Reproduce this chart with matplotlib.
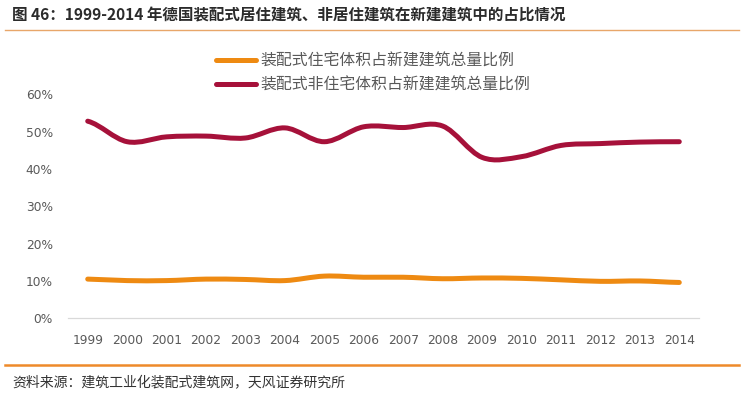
import matplotlib
matplotlib.use('Agg')
import matplotlib.pyplot as plt
from matplotlib.path import Path
from matplotlib.patches import PathPatch
from matplotlib.lines import Line2D

plt.rcParams['font.family'] = ['Noto Sans CJK SC', 'DejaVu Sans']

years = ['1999', '2000', '2001', '2002', '2003', '2004', '2005', '2006',
         '2007', '2008', '2009', '2010', '2011', '2012', '2013', '2014']
# 装配式住宅体积占新建建筑总量比例 (%)
resid = [10.5, 10.1, 10.1, 10.5, 10.4, 10.1, 11.3, 11.0,
         11.0, 10.6, 10.8, 10.7, 10.3, 9.9, 10.0, 9.6]
# 装配式非住宅体积占新建建筑总量比例 (%)
nonresid = [52.8, 47.3, 48.6, 48.8, 48.3, 51.0, 47.3, 51.3,
            51.1, 51.5, 43.1, 43.3, 46.3, 46.8, 47.2, 47.3]

labels = ['装配式住宅体积占新建建筑总量比例', '装配式非住宅体积占新建建筑总量比例']
colors = ['#EE8A12', '#A6113A']


def smooth_path(ys):
    # Excel 风格的平滑线：Catmull-Rom 转三次贝塞尔
    ys = [v / 100 for v in ys]
    n = len(ys)
    m = []
    for i in range(n):
        a = ys[max(i - 1, 0)]
        b = ys[min(i + 1, n - 1)]
        m.append((b - a) / 2)
    verts = [(0, ys[0])]
    codes = [Path.MOVETO]
    for i in range(n - 1):
        verts += [(i + 1 / 3, ys[i] + m[i] / 3),
                  (i + 1 - 1 / 3, ys[i + 1] - m[i + 1] / 3),
                  (i + 1, ys[i + 1])]
        codes += [Path.CURVE4] * 3
    return Path(verts, codes)


fig = plt.figure(figsize=(7.43, 3.96), dpi=100)
ax = fig.add_axes([68 / 743, 1 - 318.3 / 396, 631 / 743, (318.3 - 94.3) / 396])

for data, c in zip([resid, nonresid], colors):
    ax.add_patch(PathPatch(smooth_path(data), fill=False, edgecolor=c,
                           lw=3.6, capstyle='round', joinstyle='round'))

ax.set_xlim(-0.5, len(years) - 0.5)
ax.set_ylim(0, 0.6)
ax.set_xticks(range(len(years)))
ax.set_xticklabels(years, family='DejaVu Sans')
yt = [0, 0.1, 0.2, 0.3, 0.4, 0.5, 0.6]
ax.set_yticks(yt)
ax.set_yticklabels(['%d%%' % round(v * 100) for v in yt], family='DejaVu Sans')
ax.tick_params(length=0, labelsize=8.8, colors='#595959')
ax.tick_params(axis='y', pad=11)
ax.tick_params(axis='x', pad=11)
for s in ['top', 'right', 'left']:
    ax.spines[s].set_visible(False)
ax.spines['bottom'].set_color('#D9D9D9')
ax.spines['bottom'].set_linewidth(0.9)

# 图例
handles = [Line2D([], [], color=c, lw=3.6, solid_capstyle='round') for c in colors]
fig.legend(handles, labels, loc='upper left', bbox_to_anchor=(216 / 743, 1 - 53 / 396),
           frameon=False, borderpad=0, borderaxespad=0, handlelength=2.5,
           handletextpad=0.3, labelspacing=0.4, prop={'size': 11.4},
           labelcolor='#595959')

# 标题与来源
fig.text(12 / 743, 1 - 15 / 396, '图 46：1999-2014 年德国装配式居住建筑、非居住建筑在新建建筑中的占比情况',
         fontsize=11.2, fontweight='bold', color='#2B2B2B', va='center', ha='left')
fig.add_artist(Line2D([5 / 743, 739 / 743], [1 - 30 / 396, 1 - 30 / 396],
                      transform=fig.transFigure, color='#E8A66A', lw=1.0))
fig.add_artist(Line2D([5 / 743, 739 / 743], [1 - 365 / 396, 1 - 365 / 396],
                      transform=fig.transFigure, color='#EE8A2A', lw=1.8))
fig.text(12 / 743, 1 - 383 / 396, '资料来源：建筑工业化装配式建筑网，天风证券研究所',
         fontsize=10, color='#333333', va='center', ha='left')

fig.savefig('out.png', dpi=100)
